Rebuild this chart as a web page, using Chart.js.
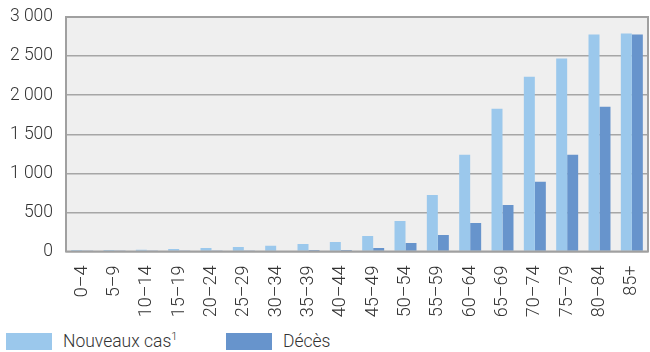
<!DOCTYPE html>
<html>
<head>
<meta charset="utf-8">
<script src="https://cdn.jsdelivr.net/npm/chart.js@4/dist/chart.umd.min.js"></script>
<style>
  html, body { margin: 0; padding: 0; background: #fff; }
  #wrap { position: relative; width: 650px; height: 352px; font-family: Roboto, sans-serif; font-weight: 300; color: #333; }
  #wrap canvas { position: absolute; left: 0; top: 0; }
  .legend { position: absolute; top: 332px; height: 18px; display: flex; align-items: center; font-size: 17.5px; }
  .legend .box { width: 46px; height: 17px; margin-right: 11px; }
  .legend sup { font-size: 11px; vertical-align: 7px; line-height: 0; }
</style>
</head>
<body>
<div id="wrap">
  <canvas id="chart" width="650" height="322"></canvas>
  <div class="legend" style="left:6px"><span class="box" style="background:#9BC8EC"></span><span>Nouveaux cas<sup>1</sup></span></div>
  <div class="legend" style="left:226px"><span class="box" style="background:#6794CC"></span><span>Décès</span></div>
</div>
<script>
const ageGroups = ['0–4', '5–9', '10–14', '15–19', '20–24', '25–29', '30–34', '35–39', '40–44',
  '45–49', '50–54', '55–59', '60–64', '65–69', '70–74', '75–79', '80–84', '85+'];
const newCases = [18, 20, 22, 32, 45, 58, 72, 96, 122, 199, 391, 724, 1237, 1827, 2237, 2468, 2776, 2788];
const deaths = [2, 2, 2, 3, 5, 7, 10, 19, 20, 45, 109, 212, 365, 596, 891, 1237, 1853, 2776];
const yTicks = [0, 500, 1000, 1500, 2000, 2500, 3000];

const LIGHT = '#9BC8EC';
const DARK = '#6794CC';
const GRID = '#A6A6A6';
const TEXT = '#333';

// grey plot background and frame around the plot area
const plotFrame = {
  id: 'plotFrame',
  beforeDraw(chart) {
    const a = chart.chartArea, ctx = chart.ctx;
    ctx.save();
    ctx.fillStyle = '#EFEFEF';
    ctx.fillRect(a.left, a.top, a.right - a.left, a.bottom - a.top);
    ctx.restore();
  },
  afterDatasetsDraw(chart) {
    const a = chart.chartArea, ctx = chart.ctx;
    ctx.save();
    ctx.strokeStyle = '#A0A0A0';
    ctx.lineWidth = 2;
    ctx.strokeRect(a.left, a.top, a.right - a.left, a.bottom - a.top);
    ctx.restore();
  }
};

new Chart(document.getElementById('chart'), {
  type: 'bar',
  data: {
    labels: ageGroups,
    datasets: [
      { label: 'Nouveaux cas', data: newCases, backgroundColor: LIGHT },
      { label: 'Décès', data: deaths, backgroundColor: DARK }
    ]
  },
  options: {
    responsive: false,
    animation: false,
    layout: { padding: { top: 17, right: 2, left: 0, bottom: 0 } },
    datasets: { bar: { categoryPercentage: 0.68, barPercentage: 1.0 } },
    plugins: { legend: { display: false }, tooltip: { enabled: false } },
    scales: {
      x: {
        grid: { display: false, drawTicks: false },
        border: { display: false },
        ticks: {
          color: TEXT,
          font: { family: 'Roboto', size: 18, weight: '300' },
          maxRotation: 90, minRotation: 90,
          padding: 14,
          autoSkip: false
        },
        afterFit(s) {
          s.height = 70.5;
          s.paddingLeft = 0;
          s.paddingRight = 0;
        }
      },
      y: {
        min: 0, max: 3000,
        afterBuildTicks(s) { s.ticks = yTicks.map(v => ({ value: v })); },
        grid: { color: GRID, lineWidth: 1.5, drawTicks: false },
        border: { display: false },
        ticks: {
          color: TEXT,
          font: { family: 'Roboto', size: 17.5, weight: '300' },
          padding: 13,
          callback: v => String(v).replace(/\B(?=(\d{3})+(?!\d))/g, ' ')
        },
        afterFit(s) {
          s.width = 66;
          s.paddingTop = 0;
          s.paddingBottom = 0;
        }
      }
    }
  },
  plugins: [plotFrame]
});
</script>
</body>
</html>
